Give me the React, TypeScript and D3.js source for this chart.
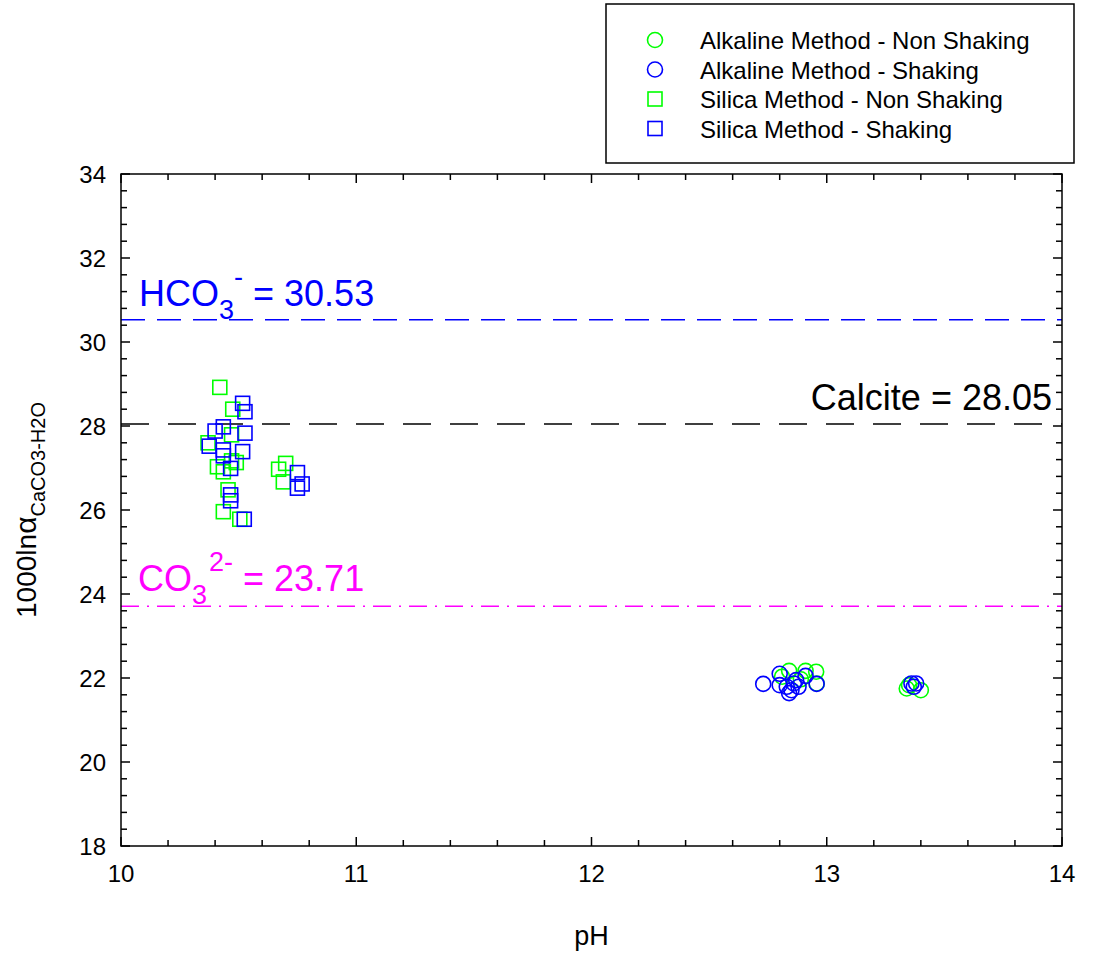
import { useEffect, useRef } from 'react';
import * as d3 from 'd3';

// Alkaline method (circles)
const alkNonShakingPH = [12.84, 12.91, 12.955, 12.957, 12.81, 12.89, 13.35, 13.40, 13.34];
const alkNonShakingVal = [22.17, 22.17, 22.15, 21.87, 22.03, 21.97, 21.83, 21.71, 21.75];
const alkShakingPH = [12.73, 12.80, 12.80, 12.84, 12.85, 12.86, 12.87, 12.88, 12.91, 12.957, 12.83, 13.36, 13.38, 13.37];
const alkShakingVal = [21.86, 22.10, 21.83, 21.64, 21.71, 21.87, 21.95, 21.79, 22.05, 21.86, 21.79, 21.87, 21.87, 21.79];

// Silica method (squares)
const silNonShakingPH = [10.42, 10.475, 10.37, 10.41, 10.435, 10.49, 10.47, 10.455, 10.435, 10.505, 10.47, 10.70, 10.67, 10.69];
const silNonShakingVal = [28.92, 28.40, 27.60, 27.03, 26.91, 27.13, 27.17, 26.48, 25.96, 25.78, 27.79, 27.11, 26.97, 26.67];
const silShakingPH = [10.517, 10.527, 10.435, 10.40, 10.527, 10.375, 10.435, 10.517, 10.435, 10.466, 10.466, 10.466, 10.524, 10.75, 10.77, 10.75];
const silShakingVal = [28.54, 28.34, 27.98, 27.88, 27.83, 27.52, 27.43, 27.39, 27.29, 26.99, 26.36, 26.22, 25.78, 26.89, 26.62, 26.52];

const refValues = [30.53, 28.05, 23.71];
const xTicks = [10, 11, 12, 13, 14];
const yTicks = [18, 20, 22, 24, 26, 28, 30, 32, 34];

const legendLabels = [
    'Alkaline Method - Non Shaking',
    'Alkaline Method - Shaking',
    'Silica Method - Non Shaking',
    'Silica Method - Shaking',
];

const GREEN = '#00ff00';
const BLUE = '#0000ff';
const MAGENTA = '#ff00ff';

const App = () => {
    const svgRef = useRef(null);
    const width = 1093;
    const height = 955;
    const margins = { top: 174, right: 31, bottom: 109, left: 121 };
    const font = 'Arial, "Liberation Sans", sans-serif';

    useEffect(() => {
        const svg = d3.select(svgRef.current);
        svg.selectAll('*').remove();

        const x = d3.scaleLinear().domain([10, 14]).range([margins.left, width - margins.right]);
        const y = d3.scaleLinear().domain([18, 34]).range([height - margins.bottom, margins.top]);
        const x0 = x(10), x1 = x(14), y0 = y(18), y1 = y(34);

        // reference lines
        const lineStyles = [
            { color: BLUE, dash: '24,12' },
            { color: '#000', dash: '28,19' },
            { color: MAGENTA, dash: '18,8,2,8' },
        ];
        refValues.forEach((v, i) => {
            svg.append('line')
                .attr('x1', x0).attr('x2', x1)
                .attr('y1', y(v)).attr('y2', y(v))
                .attr('stroke', lineStyles[i].color)
                .attr('stroke-width', 1.5)
                .attr('stroke-dasharray', lineStyles[i].dash);
        });

        // ref labels
        const hco = svg.append('text')
            .attr('x', x0 + 18).attr('y', y(30.53) - 14)
            .attr('fill', BLUE).style('font-size', '36px').style('font-family', font);
        hco.append('tspan').text('HCO');
        hco.append('tspan').attr('dy', 13).style('font-size', '27px').text('3');
        hco.append('tspan').attr('dy', -33).style('font-size', '27px').text('-');
        hco.append('tspan').attr('dy', 20).text(' = 30.53');

        svg.append('text')
            .attr('x', x1 - 10).attr('y', y(28.05) - 14)
            .attr('text-anchor', 'end')
            .attr('fill', '#000').style('font-size', '36px').style('font-family', font)
            .text('Calcite = 28.05');

        const co = svg.append('text')
            .attr('x', x0 + 17).attr('y', y(23.71) - 15)
            .attr('fill', MAGENTA).style('font-size', '36px').style('font-family', font);
        co.append('tspan').text('CO');
        co.append('tspan').attr('dy', 13).style('font-size', '27px').text('3');
        co.append('tspan').attr('dx', 2).attr('dy', -33).style('font-size', '27px').text('2-');
        co.append('tspan').attr('dy', 20).text(' = 23.71');

        // markers
        const drawCircles = (px, py, color) => {
            svg.append('g').selectAll('circle')
                .data(px.map((d, i) => [d, py[i]]))
                .join('circle')
                .attr('cx', d => x(d[0]))
                .attr('cy', d => y(d[1]))
                .attr('r', 7.5)
                .attr('fill', 'none')
                .attr('stroke', color)
                .attr('stroke-width', 1.6);
        };
        const drawSquares = (px, py, color) => {
            svg.append('g').selectAll('rect')
                .data(px.map((d, i) => [d, py[i]]))
                .join('rect')
                .attr('x', d => x(d[0]) - 7)
                .attr('y', d => y(d[1]) - 7)
                .attr('width', 14).attr('height', 14)
                .attr('fill', 'none')
                .attr('stroke', color)
                .attr('stroke-width', 1.6);
        };
        drawCircles(alkNonShakingPH, alkNonShakingVal, GREEN);
        drawCircles(alkShakingPH, alkShakingVal, BLUE);
        drawSquares(silNonShakingPH, silNonShakingVal, GREEN);
        drawSquares(silShakingPH, silShakingVal, BLUE);

        // frame
        svg.append('rect')
            .attr('x', x0).attr('y', y1)
            .attr('width', x1 - x0).attr('height', y0 - y1)
            .attr('fill', 'none').attr('stroke', '#000').attr('stroke-width', 1.5);

        // ticks (inside)
        const ticks = svg.append('g').attr('stroke', '#000').attr('stroke-width', 1.5);
        d3.range(0, 21).forEach(i => {
            const v = 10 + i * 0.2;
            const len = i % 5 === 0 ? 9 : 6;
            ticks.append('line').attr('x1', x(v)).attr('x2', x(v)).attr('y1', y0).attr('y2', y0 - len);
            ticks.append('line').attr('x1', x(v)).attr('x2', x(v)).attr('y1', y1).attr('y2', y1 + len);
        });
        d3.range(0, 41).forEach(i => {
            const v = 18 + i * 0.4;
            const len = i % 5 === 0 ? 9 : 6;
            ticks.append('line').attr('x1', x0).attr('x2', x0 + len).attr('y1', y(v)).attr('y2', y(v));
            ticks.append('line').attr('x1', x1).attr('x2', x1 - len).attr('y1', y(v)).attr('y2', y(v));
        });

        // tick labels
        svg.append('g').selectAll('text')
            .data(xTicks).join('text')
            .attr('x', d => x(d)).attr('y', y0 + 36)
            .attr('text-anchor', 'middle')
            .style('font-size', '24px').style('font-family', font)
            .text(d => d);
        svg.append('g').selectAll('text')
            .data(yTicks).join('text')
            .attr('x', x0 - 15).attr('y', d => y(d) + 9)
            .attr('text-anchor', 'end')
            .style('font-size', '24px').style('font-family', font)
            .text(d => d);

        // axis titles
        svg.append('text')
            .attr('x', (x0 + x1) / 2).attr('y', 945)
            .attr('text-anchor', 'middle')
            .style('font-size', '27px').style('font-family', font)
            .text('pH');
        const yl = svg.append('text')
            .attr('transform', `translate(36, ${(y0 + y1) / 2}) rotate(-90)`)
            .attr('text-anchor', 'middle')
            .style('font-size', '28px').style('font-family', font);
        yl.append('tspan').text('1000ln');
        yl.append('tspan').style('font-size', '30px').text('α');
        yl.append('tspan').attr('dy', 9).style('font-size', '20px').text('CaCO3-H2O');

        // legend
        const lg = svg.append('g');
        lg.append('rect')
            .attr('x', 606).attr('y', 4).attr('width', 468).attr('height', 159)
            .attr('fill', 'none').attr('stroke', '#000').attr('stroke-width', 1.5);
        const colors = [GREEN, BLUE, GREEN, BLUE];
        legendLabels.forEach((label, i) => {
            const cy = 40 + i * 29.5;
            if (i < 2) {
                lg.append('circle').attr('cx', 655).attr('cy', cy).attr('r', 7.5)
                    .attr('fill', 'none').attr('stroke', colors[i]).attr('stroke-width', 1.6);
            } else {
                lg.append('rect').attr('x', 648).attr('y', cy - 7).attr('width', 14).attr('height', 14)
                    .attr('fill', 'none').attr('stroke', colors[i]).attr('stroke-width', 1.6);
            }
            lg.append('text')
                .attr('x', 700).attr('y', cy + 9)
                .style('font-size', '24px').style('font-family', font)
                .text(label);
        });
    }, []);

    return (
        <svg ref={svgRef} width={width} height={height}
            style={{ position: 'absolute', left: 0, top: 0, background: '#fff' }}></svg>
    );
};

export default App;
